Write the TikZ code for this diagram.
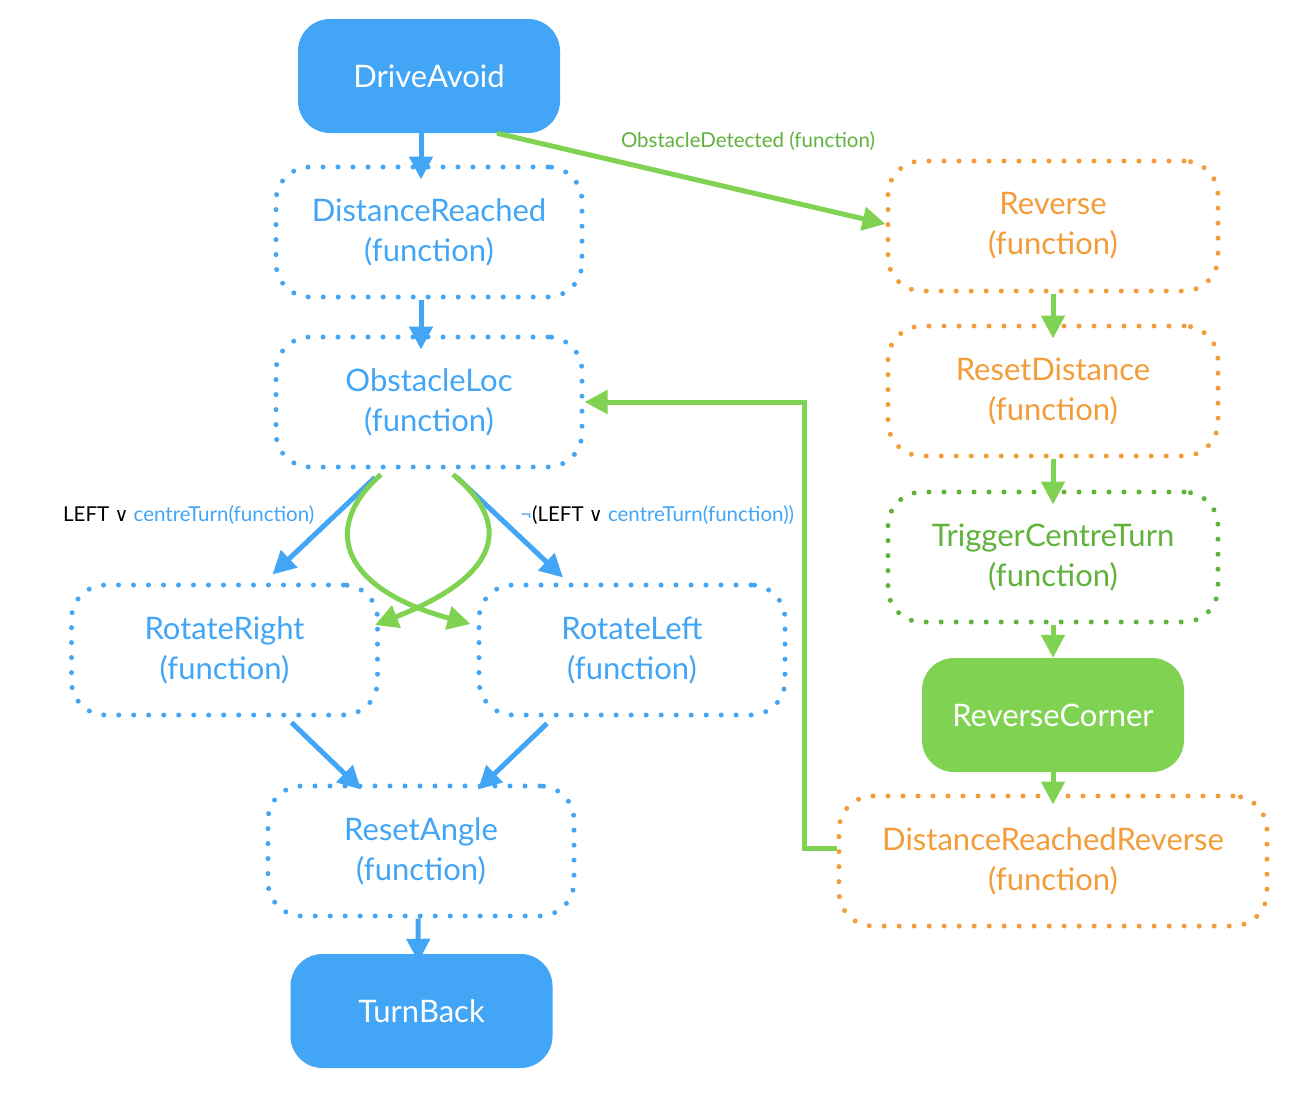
\documentclass[tikz,border=0pt]{standalone}
\usepackage{fontspec}
\setmainfont{Lato}
\newfontfamily\symfont{DejaVu Sans}
\usetikzlibrary{arrows.meta}
\definecolor{cblue}{RGB}{66,165,245}
\definecolor{corange}{RGB}{243,156,58}
\definecolor{cgreen}{RGB}{128,210,82}
\definecolor{cgreendark}{RGB}{95,178,58}
\begin{document}
\begin{tikzpicture}[x=1pt,y=-1pt,
  solidbox/.style={rounded corners=32pt, text=white, font=\fontsize{31}{36}\selectfont,
    minimum width=262pt, minimum height=114pt, inner sep=0pt},
  dotbox/.style={draw, line width=5pt, line cap=round, dash pattern=on 0pt off 15pt,
    rounded corners=34pt, align=center, font=\fontsize{31}{40}\selectfont, inner sep=0pt,
    minimum height=130pt},
  arr/.style={line width=5pt, -{Triangle[length=23pt,width=23pt]}},
  lbl/.style={font=\fontsize{20.5}{24}\selectfont, inner sep=0pt}
]
\useasboundingbox[fill=white] (0,0) rectangle (1312,1100);

% nodes
\node[solidbox, fill=cblue] (da) at (429,76) {DriveAvoid};
\node[dotbox, draw=cblue, text=cblue, minimum width=306pt] (dr) at (429,232) {DistanceReached\\(function)};
\node[dotbox, draw=cblue, text=cblue, minimum width=306pt] (ol) at (429,402) {ObstacleLoc\\(function)};
\node[dotbox, draw=cblue, text=cblue, minimum width=306pt] (rr) at (224.5,650) {RotateRight\\(function)};
\node[dotbox, draw=cblue, text=cblue, minimum width=306pt] (rl) at (632,650) {RotateLeft\\(function)};
\node[dotbox, draw=cblue, text=cblue, minimum width=306pt] (ra) at (421,851) {ResetAngle\\(function)};
\node[solidbox, fill=cblue] (tb) at (421.5,1011) {TurnBack};

\node[dotbox, draw=corange, text=corange, minimum width=330pt] (rv) at (1053,226) {Reverse\\(function)};
\node[dotbox, draw=corange, text=corange, minimum width=330pt] (rd) at (1053,391) {ResetDistance\\(function)};
\node[dotbox, draw=cgreendark, text=cgreendark, minimum width=330pt] (tc) at (1053,557) {TriggerCentreTurn\\(function)};
\node[solidbox, fill=cgreen] (rc) at (1053,715) {ReverseCorner};
\node[dotbox, draw=corange, text=corange, minimum width=428pt] (drr) at (1053,861) {DistanceReachedReverse\\(function)};

% blue arrows
\draw[arr, cblue] ([xshift=-8pt]da.south) -- ([xshift=-8pt,yshift=-15pt]dr.north);
\draw[arr, cblue] ([xshift=-8pt]dr.south) -- ([xshift=-8pt,yshift=-15pt]ol.north);
\draw[arr, cblue] ([xshift=-54pt,yshift=-8pt]ol.south) -- ([xshift=48pt,yshift=8pt]rr.north);
\draw[arr, cblue] ([xshift=28pt,yshift=-8pt]ol.south) -- ([xshift=-69pt,yshift=5pt]rl.north);
\draw[arr, cblue] ([xshift=67pt,yshift=-5pt]rr.south) -- ([xshift=-60pt,yshift=-6pt]ra.north);
\draw[arr, cblue] ([xshift=-85pt,yshift=-6pt]rl.south) -- ([xshift=57pt,yshift=-6pt]ra.north);
\draw[arr, cblue] ([xshift=-3pt]ra.south) -- ([xshift=-3pt,yshift=-8pt]tb.north);

% labels
\node[lbl, anchor=west] (l1) at (63,515) {LEFT {\symfont\fontsize{19}{22}\selectfont ∨} \textcolor{cblue}{centreTurn(function)}};
\node[lbl, anchor=west] (l2) at (520,515) {\textcolor{cblue}{¬}(LEFT {\symfont\fontsize{19}{22}\selectfont ∨} \textcolor{cblue}{centreTurn(function))}};

% green arrows
\draw[arr, cgreen] ([xshift=68pt]da.south) -- ([yshift=2pt]rv.west);
\node[lbl, text=cgreendark] (l3) at (748,141) {ObstacleDetected (function)};

\draw[arr, cgreen] ([xshift=-48pt,yshift=-5pt]ol.south) .. controls (318,530) and (345,590) .. ([xshift=-6pt,yshift=26pt]rl.west);
\draw[arr, cgreen] ([xshift=24pt,yshift=-5pt]ol.south) .. controls (520,530) and (490,580) .. ([xshift=-5pt,yshift=25pt]rr.east);

\draw[arr, cgreen] (rv.south) -- ([yshift=-15pt]rd.north);
\draw[arr, cgreen] (rd.south) -- ([yshift=-15pt]tc.north);
\draw[arr, cgreen] (tc.south) -- (rc.north);
\draw[arr, cgreen] (rc.south) -- ([yshift=-11pt]drr.north);
\draw[arr, cgreen, rounded corners=0pt] ([yshift=13pt]drr.west) -- ++(-32,0) |- (ol.east);
\end{tikzpicture}
\end{document}
